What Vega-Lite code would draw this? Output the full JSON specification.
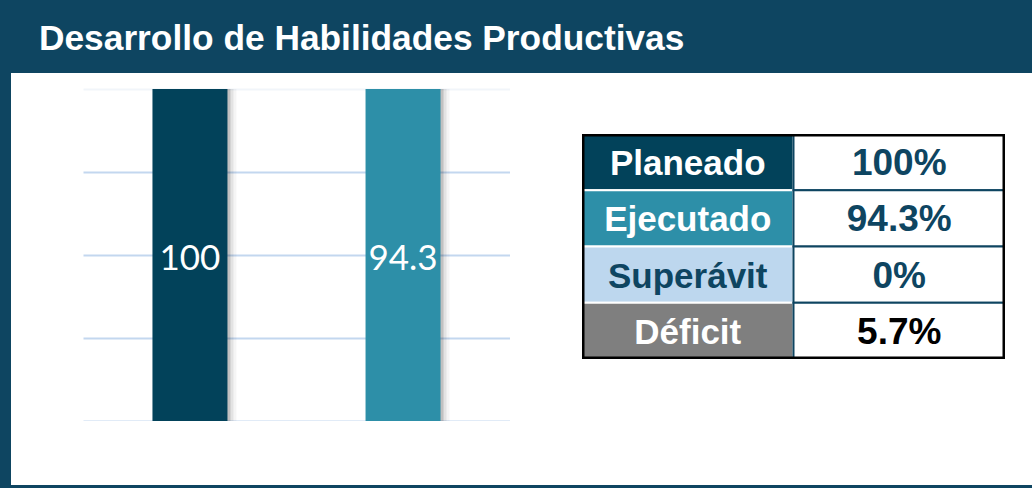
{
  "$schema": "https://vega.github.io/schema/vega-lite/v6.json",
  "background": "#0E4561",
  "padding": {"left": 11, "top": 21, "right": 0, "bottom": 5},
  "title": {
    "text": "Desarrollo de Habilidades Productivas",
    "anchor": "start",
    "frame": "group",
    "color": "white",
    "font": "Liberation Sans",
    "fontSize": 35.3,
    "fontWeight": "bold",
    "dx": 28,
    "offset": 16
  },
  "config": {
    "view": {"stroke": null, "fill": "white"},
    "concat": {"spacing": 0}
  },
  "resolve": {"scale": {"color": "independent"}},
  "spacing": 0,
  "hconcat": [
    {"width": 72, "height": 412, "view": {"fill": "white"}, "data": {"values": [{"s": 0}]}, "mark": {"type": "point", "opacity": 0}},
    {
      "spacing": 0,
      "resolve": {"scale": {"color": "independent"}},
      "vconcat": [
        {"width": 427, "height": 16, "view": {"fill": "white"}, "data": {"values": [{"s": 0}]}, "mark": {"type": "point", "opacity": 0}},
        {
          "width": 427,
          "height": 332,
          "data": {"values": [
            {"categoria": "Planeado", "valor": 100},
            {"categoria": "Ejecutado", "valor": 94.3}
          ]},
          "encoding": {
            "x": {
              "field": "categoria",
              "type": "nominal",
              "sort": ["Planeado", "Ejecutado"],
              "axis": null,
              "scale": {"paddingInner": 0.648, "paddingOuter": 0.326}
            }
          },
          "layer": [
            {
              "mark": {"type": "bar", "clip": true, "color": "#000000", "opacity": 0.04, "xOffset": 9, "yOffset": 4},
              "encoding": {
                "y": {
                  "field": "valor",
                  "type": "quantitative",
                  "scale": {"domain": [0, 80], "nice": false},
                  "axis": {
                    "grid": true,
                    "gridColor": {"condition": {"test": "datum.value === 80", "value": "#F1F5FA"}, "value": "#C3D7EF"},
                    "gridWidth": 2,
                    "labels": false,
                    "ticks": false,
                    "domain": false,
                    "title": null,
                    "values": [0, 20, 40, 60, 80]
                  }
                }
              }
            },
            {
              "mark": {"type": "bar", "clip": true, "color": "#000000", "opacity": 0.07, "xOffset": 6, "yOffset": 3},
              "encoding": {"y": {"field": "valor", "type": "quantitative"}}
            },
            {
              "mark": {"type": "bar", "clip": true, "color": "#000000", "opacity": 0.15, "xOffset": 3, "yOffset": 2},
              "encoding": {"y": {"field": "valor", "type": "quantitative"}}
            },
            {
              "mark": {"type": "bar", "clip": true},
              "encoding": {
                "y": {"field": "valor", "type": "quantitative"},
                "color": {
                  "field": "categoria",
                  "type": "nominal",
                  "scale": {"domain": ["Planeado", "Ejecutado"], "range": ["#02425A", "#2D8FA8"]},
                  "legend": null
                }
              }
            },
            {
              "mark": {"type": "text", "color": "white", "font": "Lato", "fontSize": 35, "baseline": "middle", "dy": 4},
              "encoding": {
                "y": {"datum": 40, "type": "quantitative"},
                "text": {"field": "valor", "type": "quantitative"}
              }
            }
          ]
        },
        {"width": 427, "height": 64, "view": {"fill": "white"}, "data": {"values": [{"s": 0}]}, "mark": {"type": "point", "opacity": 0}}
      ]
    },
    {"width": 72, "height": 412, "view": {"fill": "white"}, "data": {"values": [{"s": 0}]}, "mark": {"type": "point", "opacity": 0}},
    {
      "spacing": 0,
      "resolve": {"scale": {"color": "independent"}},
      "vconcat": [
        {"width": 423, "height": 61, "view": {"fill": "white"}, "data": {"values": [{"s": 0}]}, "mark": {"type": "point", "opacity": 0}},
        {
          "width": 423,
          "height": 225,
          "view": {"fill": "white"},
          "data": {"values": [
            {"concepto": "Planeado", "valor": "100%"},
            {"concepto": "Ejecutado", "valor": "94.3%"},
            {"concepto": "Superávit", "valor": "0%"},
            {"concepto": "Déficit", "valor": "5.7%"}
          ]},
          "layer": [
            {
              "mark": {"type": "rect", "stroke": "white", "strokeWidth": 2, "clip": true},
              "encoding": {
                "y": {
                  "field": "concepto",
                  "type": "nominal",
                  "sort": null,
                  "axis": null,
                  "scale": {"paddingInner": 0, "paddingOuter": 0}
                },
                "x": {
                  "datum": "Concepto",
                  "type": "nominal",
                  "scale": {"domain": ["Concepto", "Valor"], "paddingInner": 0, "paddingOuter": 0},
                  "axis": null
                },
                "color": {
                  "field": "concepto",
                  "type": "nominal",
                  "scale": {"domain": ["Planeado", "Ejecutado", "Superávit", "Déficit"], "range": ["#02425A", "#2D8FA8", "#BDD7EE", "#7F7F7F"]},
                  "legend": null
                }
              }
            },
            {
              "mark": {"type": "rect", "fill": "white", "stroke": "#0E4561", "strokeWidth": 2, "clip": true},
              "encoding": {
                "y": {"field": "concepto", "type": "nominal", "sort": null},
                "x": {"datum": "Valor", "type": "nominal"}
              }
            },
            {
              "mark": {"type": "text", "font": "Liberation Sans", "fontWeight": "bold", "fontSize": 35, "baseline": "middle", "dy": 2},
              "encoding": {
                "y": {"field": "concepto", "type": "nominal", "sort": null},
                "x": {"datum": "Concepto", "type": "nominal"},
                "text": {"field": "concepto"},
                "color": {"condition": {"test": "datum.concepto === 'Superávit'", "value": "#0E4561"}, "value": "white"}
              }
            },
            {
              "mark": {"type": "text", "font": "Liberation Sans", "fontWeight": "bold", "fontSize": 37, "baseline": "middle", "dy": 2},
              "encoding": {
                "y": {"field": "concepto", "type": "nominal", "sort": null},
                "x": {"datum": "Valor", "type": "nominal"},
                "text": {"field": "valor"},
                "color": {"condition": {"test": "datum.concepto === 'Déficit'", "value": "#000000"}, "value": "#0E4561"}
              }
            },
            {
              "data": {"values": [{"marco": "tabla"}]},
              "mark": {"type": "rect", "fill": null, "stroke": "#000000", "strokeWidth": 5, "clip": true},
              "encoding": {}
            }
          ]
        },
        {"width": 423, "height": 126, "view": {"fill": "white"}, "data": {"values": [{"s": 0}]}, "mark": {"type": "point", "opacity": 0}}
      ]
    },
    {"width": 27, "height": 412, "view": {"fill": "white"}, "data": {"values": [{"s": 0}]}, "mark": {"type": "point", "opacity": 0}}
  ]
}
